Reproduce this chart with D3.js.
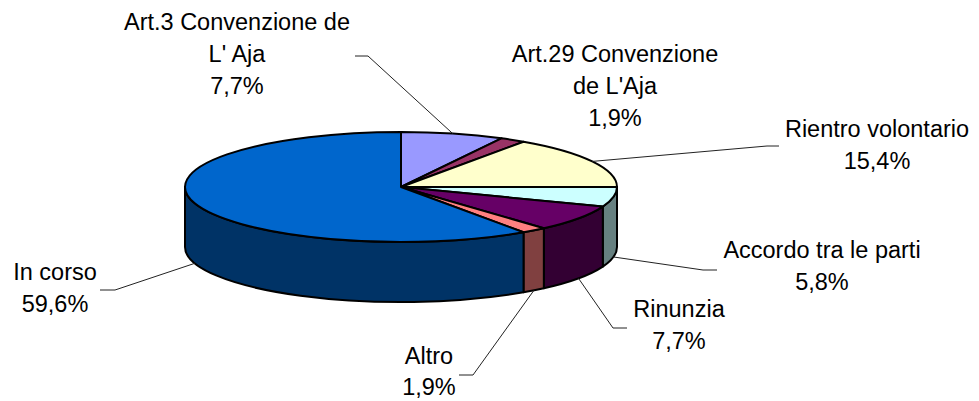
<!DOCTYPE html>
<html>
<head>
<meta charset="utf-8">
<script src="https://cdn.jsdelivr.net/npm/d3@7"></script>
<style>
  html, body { margin: 0; padding: 0; background: #fff; }
  svg { display: block; }
  text { font-family: "Liberation Sans", Arial, sans-serif; fill: #000; }
</style>
</head>
<body>
<svg id="chart" width="979" height="401"></svg>
<script>
// ---- data ----
const categories = [
  "Art.3 Convenzione de\nL' Aja",
  "Art.29 Convenzione\nde L'Aja",
  "Rientro volontario",
  "Accordo tra le parti",
  "Rinunzia",
  "Altro",
  "In corso"
];
const values = [7.7, 1.9, 15.4, 5.8, 7.7, 1.9, 59.6];
const topColors  = ["#9999FF", "#993366", "#FFFFCC", "#CCFFFF", "#660066", "#FF8080", "#0066CC"];
const sideColors = ["#4C4C80", "#4C1A33", "#808066", "#668080", "#330033", "#804040", "#003366"];

// ---- layout ----
const W = 979, H = 401;
const cx = 401, cy = 187, rx = 216, ry = 55, depth = 60;
const fontSize = 23.5, lineH = 32;
// label text centre x and first baseline y, leader elbow & end (null = no leader)
const labelLayout = [
  { x: 237, y: 30,  elbow: [368, 56],  end: [355, 56] },
  { x: 615, y: 62,  elbow: null, end: null },
  { x: 877, y: 137, elbow: [767, 146], end: [779, 146] },
  { x: 822, y: 258, elbow: [703, 270], end: [717, 270] },
  { x: 679, y: 317, elbow: [613, 328], end: [627, 328] },
  { x: 429, y: 364, lineH: 31, elbow: [473, 375], end: [459, 375] },
  { x: 55,  y: 280, elbow: [115, 290], end: [100, 290] }
];

const svg = d3.select("#chart");

const pie = d3.pie().sort(null).value(d => d).startAngle(0).endAngle(2 * Math.PI);
const arcs = pie(values);

const px = a => cx + rx * Math.sin(a);
const py = (a, dy = 0) => cy - ry * Math.cos(a) + dy;

// ---- sides (front half: angles between PI/2 and 3PI/2) ----
const sideG = svg.append("g");
arcs.forEach((d, i) => {
  const a0 = Math.max(d.startAngle, Math.PI / 2);
  const a1 = Math.min(d.endAngle, 3 * Math.PI / 2);
  if (a1 <= a0) return;
  const path = `M${px(a0)},${py(a0)} A${rx},${ry} 0 0 1 ${px(a1)},${py(a1)} ` +
               `L${px(a1)},${py(a1, depth)} A${rx},${ry} 0 0 0 ${px(a0)},${py(a0, depth)} Z`;
  sideG.append("path")
    .attr("d", path)
    .attr("fill", sideColors[i])
    .attr("stroke", "#000")
    .attr("stroke-width", 2)
    .attr("stroke-linejoin", "round");
});

// ---- top faces ----
const topG = svg.append("g");
arcs.forEach((d, i) => {
  const a0 = d.startAngle, a1 = d.endAngle;
  const large = (a1 - a0) > Math.PI ? 1 : 0;
  const path = `M${cx},${cy} L${px(a0)},${py(a0)} A${rx},${ry} 0 ${large} 1 ${px(a1)},${py(a1)} Z`;
  topG.append("path")
    .attr("d", path)
    .attr("fill", topColors[i])
    .attr("stroke", "#000")
    .attr("stroke-width", 2)
    .attr("stroke-linejoin", "round");
});

// ---- leader lines ----
const fmt = v => d3.format(".1f")(v).replace(".", ",") + "%";
const leaderG = svg.append("g");
arcs.forEach((d, i) => {
  const L = labelLayout[i];
  if (!L.elbow) return;
  const mid = (d.startAngle + d.endAngle) / 2;
  const front = mid > Math.PI / 2 && mid < 3 * Math.PI / 2;
  const ax = px(mid), ay = py(mid, front ? depth : 0);
  leaderG.append("path")
    .attr("d", `M${ax},${ay} L${L.elbow[0]},${L.elbow[1]} L${L.end[0]},${L.end[1]}`)
    .attr("fill", "none")
    .attr("stroke", "#222")
    .attr("stroke-width", 1);
});

// ---- labels ----
const labelG = svg.append("g");
categories.forEach((c, i) => {
  const L = labelLayout[i];
  const lh = L.lineH || lineH;
  const lines = c.split("\n").concat([fmt(values[i])]);
  const t = labelG.append("text")
    .attr("text-anchor", "middle")
    .attr("font-size", fontSize);
  lines.forEach((ln, j) => {
    t.append("tspan").attr("x", L.x).attr("y", L.y + j * lh).text(ln);
  });
});
</script>
</body>
</html>
